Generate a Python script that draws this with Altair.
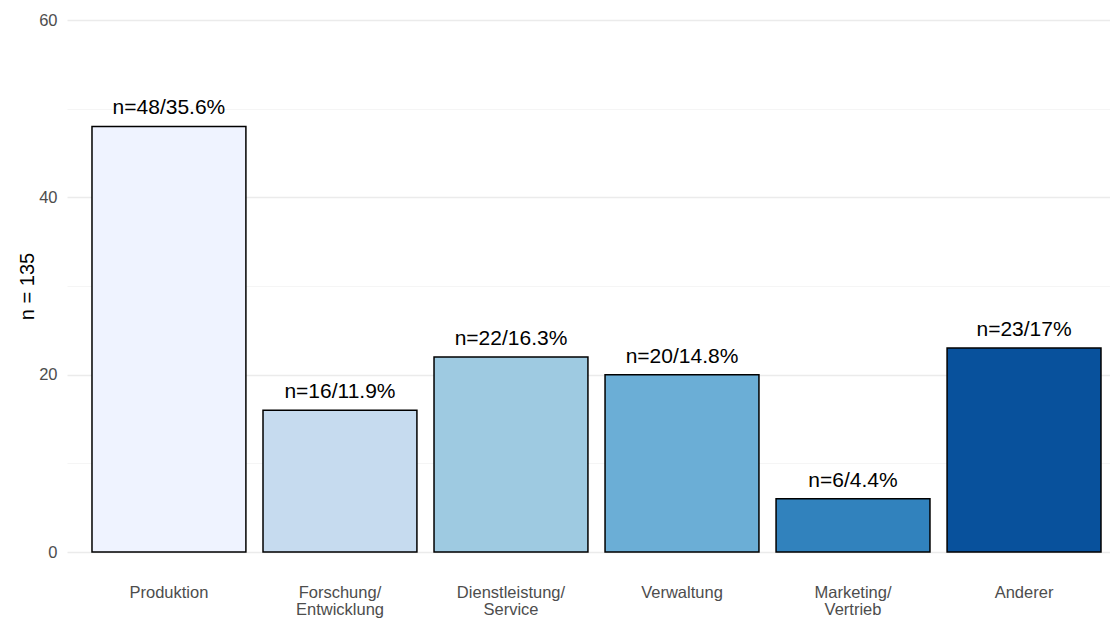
import altair as alt
import pandas as pd

categories = ["Produktion", "Forschung/\nEntwicklung", "Dienstleistung/\nService",
              "Verwaltung", "Marketing/\nVertrieb", "Anderer"]
counts = [48, 16, 22, 20, 6, 23]
bar_labels = ["n=48/35.6%", "n=16/11.9%", "n=22/16.3%", "n=20/14.8%", "n=6/4.4%", "n=23/17%"]
colors = ["#EFF3FF", "#C6DBEF", "#9ECAE1", "#6BAED6", "#3182BD", "#08519C"]
y_ticks = [0, 10, 20, 30, 40, 50, 60]

df = pd.DataFrame({"cat": categories, "n": counts, "lab": bar_labels})

FONT = "Liberation Sans"

x_enc = alt.X(
    "cat:N",
    sort=categories,
    title=None,
    scale=alt.Scale(paddingInner=0.1, paddingOuter=0.0994, align=0.735),
    axis=alt.Axis(
        labelExpr="split(datum.label, '\\n')",
        labelAngle=0,
        labelPadding=32,
        labelFontSize=16.5,
        labelColor="#4D4D4D",
        labelFont=FONT,
        labelLineHeight=17,
        ticks=False,
        domain=False,
        grid=False,
    ),
)

y_enc = alt.Y(
    "n:Q",
    title="n = 135",
    scale=alt.Scale(domain=[0, 60], nice=False, zero=True),
    axis=alt.Axis(
        values=y_ticks,
        labelExpr="datum.value % 20 === 0 ? datum.label : ''",
        labelFontSize=16.5,
        labelColor="#4D4D4D",
        labelFont=FONT,
        labelPadding=10,
        ticks=False,
        domain=False,
        gridColor={"condition": {"test": "datum.value % 20 === 0", "value": "#EBEBEB"}, "value": "#F2F2F2"},
        gridWidth={"condition": {"test": "datum.value % 20 === 0", "value": 1.3}, "value": 0.8},
        titleFont=FONT,
        titleFontSize=20,
        titleFontWeight="normal",
        titleColor="#000000",
        titleX=-34,
        titleY=266,
        titleAlign="center",
        titleBaseline="alphabetic",
        titleAngle=-90,
    ),
)

bars = alt.Chart(df).mark_bar(stroke="black", strokeWidth=1.5).encode(
    x=x_enc,
    y=y_enc,
    color=alt.Color("cat:N", sort=categories,
                    scale=alt.Scale(domain=categories, range=colors), legend=None),
)

texts = alt.Chart(df).mark_text(
    font=FONT, fontSize=21, color="black", baseline="alphabetic", dy=-12
).encode(
    x=alt.X("cat:N", sort=categories),
    y=alt.Y("n:Q"),
    text="lab:N",
)

chart = alt.layer(bars, texts).properties(
    width=1043,
    height=532,
    autosize=alt.AutoSizeParams(type="none"),
    padding={"left": 59, "top": 12, "right": 0, "bottom": 66},
).configure(background="white", view=alt.ViewConfig(stroke=None))

chart.save("out.html", embed_options={"renderer": "svg", "actions": False})
